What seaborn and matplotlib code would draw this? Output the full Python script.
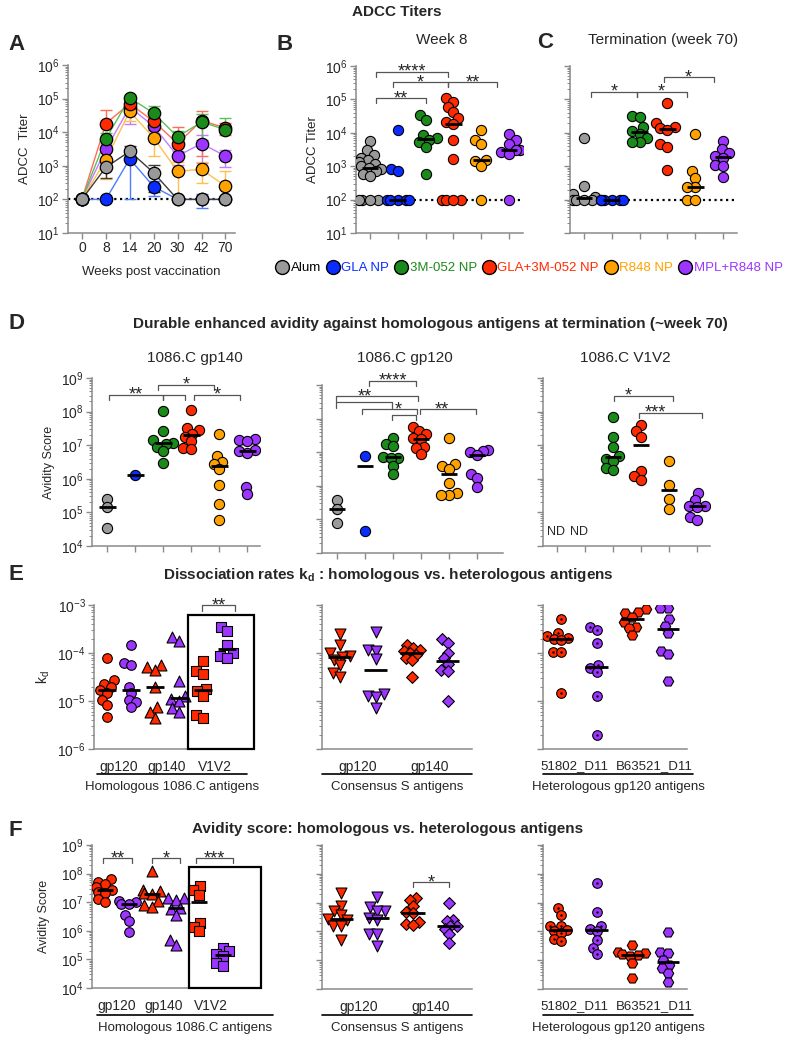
import warnings
warnings.filterwarnings('ignore')
import numpy as np
import pandas as pd
import matplotlib
matplotlib.use('Agg')
import matplotlib.pyplot as plt
import seaborn as sns
from matplotlib.lines import Line2D
from matplotlib.patches import Rectangle
from matplotlib.ticker import LogLocator, NullFormatter, LogFormatterMathtext

# ---------------- data ----------------
groups = ['Alum', 'GLA NP', '3M-052 NP', 'GLA+3M-052 NP', 'R848 NP', 'MPL+R848 NP']
group_colors = ['#9a9a9a', '#0a2cff', '#1a8a1a', '#ff2a00', '#ffa200', '#9b35ff']
line_colors = ['#3c3c3c', '#4d7dff', '#5cbf5c', '#ff6d55', '#ffc04d', '#c27dff']
legend_text_colors = ['black', '#0a2cff', '#1a8a1a', '#ff2a00', '#ffa200', '#9b35ff']

# Panel A: mean ADCC titer over time
weeks = ['0', '8', '14', '20', '30', '42', '70']
a_alum = [100, 900, 2700, 620, 100, 100, 100]
a_gla = [100, 100, 1600, 240, 100, 100, 100]
a_3m = [100, 6300, 105000, 37000, 7300, 20000, 12000]
a_gla3m = [100, 18000, 71000, 21000, 4600, 22000, 13500]
a_r848 = [100, 1500, 42000, 6800, 690, 780, 250]
a_mpl = [100, 3100, 56000, 15000, 1950, 4600, 1950]
a_alum_sem = [0, 460, 1100, 450, 0, 0, 0]
a_gla_sem = [0, 0, 1500, 110, 0, 45, 0]
a_3m_sem = [0, 3000, 25000, 25000, 3400, 14000, 14000]
a_gla3m_sem = [0, 29000, 35000, 14000, 10000, 20000, 5000]
a_r848_sem = [0, 1100, 20000, 4800, 600, 480, 450]
a_mpl_sem = [0, 1500, 38000, 8000, 900, 3400, 1000]

# Panel B: week 8
b_alum = [5500, 3000, 2200, 1800, 1500, 1300, 1200, 1000, 900, 800, 700, 600, 500, 100, 100, 100, 100]
b_gla = [12000, 850, 700, 100, 100, 100, 100, 100]
b_3m = [34000, 24000, 8500, 7000, 6000, 5200, 3800, 600]
b_gla3m = [107000, 85000, 60000, 42000, 27000, 21000, 18000, 6000, 1700, 100, 100, 100, 100]
b_r848 = [12000, 6000, 4500, 1500, 1400, 1000, 100]
b_mpl = [9000, 6000, 4500, 3100, 3000, 2600, 2400, 100]

# Panel C: termination
c_alum = [6800, 250, 150, 120, 100, 100, 100, 100]
c_gla = [100, 100, 100, 100, 100, 100]
c_3m = [32000, 30000, 15000, 11000, 9500, 6800, 5400, 5400]
c_gla3m = [79000, 19000, 15000, 13500, 12500, 4500, 3800, 760]
c_r848 = [9500, 720, 450, 240, 240, 100, 100]
c_mpl = [5600, 3200, 2500, 2000, 1800, 1100, 1000, 480]

# Panel D: avidity score
d1_alum = [2.5e5, 1.4e5, 3.5e4]
d1_gla = [1.3e6]
d1_3m = [1.05e8, 2.6e7, 1.4e7, 1.2e7, 1.05e7, 9e6, 6.5e6, 3e6]
d1_gla3m = [1.15e8, 3.2e7, 2.8e7, 2.2e7, 1.8e7, 1.3e7, 8e6, 7.5e6]
d1_r848 = [2.2e7, 4.8e6, 3.2e6, 2.8e6, 1.9e6, 6.6e5, 1.8e5, 6e4]
d1_mpl = [1.5e7, 1.4e7, 1.3e7, 7e6, 6.5e6, 6e6, 5.8e5, 3.5e5]

d2_alum = [3.9e5, 2.1e5, 7.8e4]
d2_gla = [7.6e6, 4.4e4]
d2_3m = [2.6e7, 1.8e7, 1.5e7, 7.2e6, 6.8e6, 6.5e6, 4e6, 2.3e6]
d2_gla3m = [5.8e7, 4.3e7, 3.6e7, 2.6e7, 2.5e7, 1.4e7, 1.3e7, 8.7e6]
d2_r848 = [2.7e7, 4.5e6, 4.0e6, 3.2e6, 1.2e6, 6e5, 5.5e5, 5.5e5]
d2_mpl = [1.2e7, 1.1e7, 1.0e7, 8.2e6, 2.3e6, 1.7e6, 9e5]

d3_alum = []
d3_gla = []
d3_3m = [6.9e7, 1.7e7, 9e6, 4.8e6, 4.0e6, 3.4e6, 2.1e6, 1.8e6]
d3_gla3m = [4.1e7, 2.6e7, 1.8e7, 1.7e6, 1.2e6, 9.3e5]
d3_r848 = [3.3e6, 6.6e5, 2.5e5, 1.3e5]
d3_mpl = [3.7e5, 2.3e5, 1.6e5, 1.5e5, 1.4e5, 7.5e4, 6e4]

# Panel E: dissociation rate kd (red = GLA+3M-052 NP, purple = MPL+R848 NP)
e_hom_gp120_red = [7.7e-5, 2.7e-5, 2.3e-5, 2.0e-5, 1.7e-5, 1.5e-5, 1.05e-5, 8.3e-6, 4.7e-6]
e_hom_gp120_pur = [1.5e-4, 6.3e-5, 5.6e-5, 2.0e-5, 1.45e-5, 1.05e-5, 9.6e-6, 7.4e-6]
e_hom_gp140_red = [5.6e-5, 5.1e-5, 4.4e-5, 2.0e-5, 7.6e-6, 6e-6, 4.4e-6]
e_hom_gp140_pur = [2.2e-4, 1.8e-4, 2.6e-5, 1.25e-5, 1.1e-5, 9.8e-6, 7.1e-6, 6e-6]
e_hom_v1v2_red = [6.8e-5, 4.2e-5, 3.6e-5, 1.8e-5, 1.6e-5, 1.3e-5, 5.1e-6, 4.4e-6]
e_hom_v1v2_pur = [3.5e-4, 2.9e-4, 1.47e-4, 1.0e-4, 8.5e-5, 7.8e-5]
e_con_gp120_red = [2.45e-4, 1.47e-4, 1.0e-4, 8.6e-5, 8.1e-5, 7.1e-5, 5.6e-5, 3.8e-5, 3.1e-5]
e_con_gp120_pur = [2.7e-4, 1.15e-4, 1.1e-4, 7.4e-5, 1.4e-5, 1.3e-5, 1.2e-5, 7.1e-6]
e_con_gp140_red = [1.5e-4, 1.3e-4, 1.15e-4, 1.1e-4, 1.0e-4, 9e-5, 7.7e-5, 7.1e-5, 3.2e-5]
e_con_gp140_pur = [1.96e-4, 1.65e-4, 1.0e-4, 7.7e-5, 6e-5, 4.4e-5, 4.2e-5, 1.0e-5]
e_het_518_red = [5e-4, 2.6e-4, 2.3e-4, 2.1e-4, 2.0e-4, 1.9e-4, 1.07e-4, 1.05e-4, 1.5e-5]
e_het_518_pur = [3.5e-4, 3.0e-4, 1.6e-4, 5.6e-5, 4.8e-5, 4.0e-5, 1.3e-5, 1.95e-6]
e_het_b63_red = [8.1e-4, 7.3e-4, 6.7e-4, 5.7e-4, 4.5e-4, 3.5e-4, 3.3e-4, 2.4e-4]
e_het_b63_pur = [8.5e-4, 8.5e-4, 5e-4, 3.65e-4, 2.6e-4, 1.1e-4, 9.5e-5, 2.6e-5]

# Panel F: avidity score
f_hom_gp120_red = [6.3e7, 5.2e7, 4.4e7, 3.5e7, 2.7e7, 2.3e7, 2.1e7, 1.3e7, 1.0e7]
f_hom_gp120_pur = [1.1e7, 1.0e7, 9e6, 8.8e6, 3.6e6, 2.2e6, 9e5]
f_hom_gp140_red = [1.2e8, 2.7e7, 2.4e7, 2.1e7, 1.9e7, 1.1e7, 8e6, 7e6]
f_hom_gp140_pur = [1.45e7, 1.35e7, 1.2e7, 6.5e6, 6e6, 3.5e6, 4.9e5, 3.2e5]
f_hom_v1v2_red = [3.6e7, 2.6e7, 1.8e7, 1.9e6, 1.4e6, 9.6e5]
f_hom_v1v2_pur = [2.5e5, 1.9e5, 1.5e5, 1.35e5, 7.4e4, 6e4]
f_con_gp120_red = [2.1e7, 7.7e6, 5.2e6, 3.8e6, 2.6e6, 2.4e6, 1.6e6, 1.5e6, 5.1e5]
f_con_gp120_pur = [1.6e7, 7.2e6, 5.2e6, 5.0e6, 2.9e6, 2.5e6, 8.3e5, 8e5, 3.2e5]
f_con_gp140_red = [1.4e7, 1.2e7, 7.7e6, 4.6e6, 4.4e6, 2.2e6, 1.8e6, 1.7e6]
f_con_gp140_pur = [9.5e6, 2.5e6, 2.3e6, 1.6e6, 1.5e6, 1.2e6, 8.3e5, 3.9e5]
f_het_518_red = [6.4e6, 3.8e6, 1.6e6, 1.5e6, 1.1e6, 1.0e6, 8.5e5, 5.4e5, 4.5e5]
f_het_518_pur = [4.7e7, 4.6e6, 1.55e6, 1.2e6, 1.0e6, 5.1e5, 2.6e5, 1.6e5]
f_het_b63_red = [3.5e5, 2.0e5, 1.8e5, 1.6e5, 1.5e5, 1.4e5, 7.9e4, 2.4e4]
f_het_b63_pur = [9.2e5, 2.0e5, 1.8e5, 1.0e5, 6.8e4, 5.3e4, 3.6e4, 1.8e4]

hom_labels = ['gp120', 'gp140', 'V1V2']
con_labels = ['gp120', 'gp140']
het_labels = ['51802_D11', 'B63521_D11']

# ---------------- style ----------------
sns.set_theme(style='ticks')
plt.rcParams['font.family'] = ['Liberation Sans', 'DejaVu Sans']
plt.rcParams.update({'mathtext.fontset': 'custom', 'mathtext.rm': 'Liberation Sans',
                     'mathtext.it': 'Liberation Sans:italic', 'mathtext.bf': 'Liberation Sans:bold',
                     'axes.unicode_minus': False})

W, H = 794, 1050
fig = plt.figure(figsize=(W / 100, H / 100), dpi=100)
AXC = '#8a8a8a'
RED = group_colors[3]
PUR = group_colors[5]
pending = []


def add_ax(l, r, t, b):
    return fig.add_axes([l / W, 1 - b / H, (r - l) / W, (b - t) / H])


def style_axis(ax, ylim, ylabels=True, fs=10):
    ax.set_yscale('log')
    ax.set_ylim(*ylim)
    ax.yaxis.set_major_locator(LogLocator(base=10, numticks=20))
    ax.yaxis.set_minor_locator(LogLocator(base=10, subs=np.arange(2, 10), numticks=20))
    ax.yaxis.set_minor_formatter(NullFormatter())
    ax.yaxis.set_major_formatter(LogFormatterMathtext() if ylabels else NullFormatter())
    sns.despine(ax=ax)
    for s in ('left', 'bottom'):
        ax.spines[s].set_color(AXC)
        ax.spines[s].set_linewidth(1.1)
    ax.tick_params(which='major', color=AXC, length=4, width=1.0, labelsize=fs, pad=2)
    ax.tick_params(axis='y', which='minor', color=AXC, length=2, width=0.7)


def dot_panel(ax, lists, names, colors, markers, sizes, hw, xlim, dot_groups=()):
    for i, vals in enumerate(lists):
        if len(vals) == 0:
            continue
        df = pd.DataFrame({'grp': [names[i]] * len(vals), 'val': vals})
        before = list(ax.collections)
        sns.swarmplot(data=df, x='grp', y='val', order=names, color=colors[i], marker=markers[i],
                      size=np.sqrt(sizes[i]) * 0.62, linewidth=0.8, edgecolor='black', ax=ax, zorder=3)
        for c in ax.collections:
            if not any(c is b for b in before):
                pending.append((c, sizes[i], ax, i in dot_groups))
        ax.hlines(np.median(vals), i - hw, i + hw, colors='black', lw=2.0, zorder=6)
    ax.set_xlim(*xlim)
    ax.set_xlabel('')
    ax.set_ylabel('')


def bracket(ax, x1, x2, y, text='', tick=0.15, tx=None, fs=13):
    f = 10 ** (-tick)
    ax.plot([x1, x1, x2, x2], [y * f, y, y, y * f], color='#555555', lw=0.9, clip_on=False, zorder=7)
    if text:
        ax.annotate(text, ((x1 + x2) / 2 if tx is None else tx, y), xytext=(0, -3.6),
                    textcoords='offset points', ha='center', va='baseline', fontsize=fs,
                    annotation_clip=False, zorder=7)


def fig_text(x, y, s, **kw):
    fig.text(x / W, 1 - y / H, s, ha=kw.pop('ha', 'center'), va=kw.pop('va', 'center'), **kw)


def cat_ticks(ax, n):
    ax.set_xticks(range(n))
    ax.set_xticklabels([''] * n)


def pair_labels(ax, labels, fs=10, shift=0.0):
    n = len(labels)
    pos = [0.5 + 2 * k + (shift if n == 2 else 0) * (2 * k - 1) for k in range(n)]
    ax.set_xticks(pos)
    ax.set_xticklabels(labels, fontsize=fs)
    ax.tick_params(axis='x', length=0, pad=8)


# ---------------- Panel A ----------------
axA = add_ax(68, 235, 65, 233)
style_axis(axA, (10, 1e6))
xA = np.arange(len(weeks))
seriesA = [(a_gla, a_gla_sem, 1), (a_mpl, a_mpl_sem, 5), (a_r848, a_r848_sem, 4),
           (a_gla3m, a_gla3m_sem, 3), (a_3m, a_3m_sem, 2), (a_alum, a_alum_sem, 0)]
axA.axhline(100, color='black', ls=(0, (1, 1.6)), lw=1.6, zorder=1.5)
for k, (vals, sem, gi) in enumerate(seriesA):
    v = np.array(vals, float)
    s = np.array(sem, float)
    lo = np.where(v - s > 0, s, 0)
    sns.lineplot(x=xA, y=v, color=line_colors[gi], lw=1.0, ax=axA, zorder=2)
    axA.errorbar(xA, v, yerr=[lo, s], fmt='none', ecolor=line_colors[gi], elinewidth=1.0,
                 capsize=4, capthick=1.0, zorder=2)
for k, (vals, sem, gi) in enumerate(seriesA):
    sns.scatterplot(x=xA, y=vals, color=group_colors[gi], s=80, edgecolor='black', linewidth=0.9,
                    ax=axA, zorder=3 + k, legend=False)
axA.set_xlim(-0.58, 6.4)
axA.set_xticks(xA)
axA.set_xticklabels(weeks, fontsize=10)
axA.set_xlabel('Weeks post vaccination', fontsize=9.5, labelpad=8)
axA.set_ylabel('ADCC  Titer', fontsize=9.5)

# ---------------- Panel B ----------------
axB = add_ax(356, 523, 66, 233)
style_axis(axB, (10, 1e6))
axB.axhline(100, color='black', ls=(0, (1, 1.6)), lw=1.6, zorder=1.5)
dot_panel(axB, [b_alum, b_gla, b_3m, b_gla3m, b_r848, b_mpl], groups, group_colors, ['o'] * 6,
          [54] * 6, 0.3, (-0.5, 5.5))
cat_ticks(axB, 6)
axB.set_ylabel('ADCC Titer', fontsize=9.5)
bracket(axB, 0.21, 2.82, 10 ** 5.83, '****')
bracket(axB, 0.83, 2.80, 10 ** 5.51, '*')
bracket(axB, 2.80, 4.56, 10 ** 5.51, '**')
bracket(axB, 0.21, 2.02, 10 ** 5.03, '**')

# ---------------- Panel C ----------------
axC = add_ax(570, 737, 66, 233)
style_axis(axC, (10, 1e6), ylabels=False)
axC.axhline(100, color='black', ls=(0, (1, 1.6)), lw=1.6, zorder=1.5)
dot_panel(axC, [c_alum, c_gla, c_3m, c_gla3m, c_r848, c_mpl], groups, group_colors, ['o'] * 6,
          [54] * 6, 0.3, (-0.5, 5.5))
cat_ticks(axC, 6)
bracket(axC, 0.26, 1.9, 10 ** 5.23, '*')
bracket(axC, 1.9, 3.69, 10 ** 5.23, '*')
bracket(axC, 2.86, 4.67, 10 ** 5.66, '*')

# ---------------- Panel D ----------------
axD1 = add_ax(92, 260, 378, 546)
style_axis(axD1, (1e4, 1e9))
dot_panel(axD1, [d1_alum, d1_gla, d1_3m, d1_gla3m, d1_r848, d1_mpl], groups, group_colors,
          ['o'] * 6, [54] * 6, 0.3, (-0.54, 5.46))
cat_ticks(axD1, 6)
axD1.set_ylabel('Avidity Score', fontsize=9)
bracket(axD1, 0.06, 2.0, 10 ** 8.5, '**')
bracket(axD1, 2.0, 2.77, 10 ** 8.5, '')
bracket(axD1, 1.82, 3.81, 10 ** 8.8, '*')
bracket(axD1, 3.1, 4.76, 10 ** 8.5, '*')

axD2 = add_ax(322, 503, 385, 553)
style_axis(axD2, (1e4, 1e9), ylabels=False)
dot_panel(axD2, [d2_alum, d2_gla, d2_3m, d2_gla3m, d2_r848, d2_mpl], groups, group_colors,
          ['o'] * 6, [54] * 6, 0.3, (-0.54, 5.93))
cat_ticks(axD2, 6)
bracket(axD2, 1.15, 2.83, 10 ** 9.13, '****')
bracket(axD2, -0.04, 2.89, 10 ** 8.67, '**', tx=1.0)
bracket(axD2, -0.04, 1.96, 10 ** 8.48, '')
bracket(axD2, 0.89, 2.86, 10 ** 8.28, '*', tx=2.2)
bracket(axD2, 1.96, 2.83, 10 ** 8.12, '')
bracket(axD2, 2.98, 4.96, 10 ** 8.28, '**', tx=3.75)

axD3 = add_ax(543, 710, 378, 546)
style_axis(axD3, (1e4, 1e9), ylabels=False)
dot_panel(axD3, [d3_alum, d3_gla, d3_3m, d3_gla3m, d3_r848, d3_mpl], groups, group_colors,
          ['o'] * 6, [54] * 6, 0.3, (-0.5, 5.46))
cat_ticks(axD3, 6)
for gx in (-0.05, 0.8):
    axD3.text(gx, 10 ** 4.43, 'ND', ha='center', va='center', fontsize=9)
bracket(axD3, 2.02, 4.15, 10 ** 8.47, '*', tx=2.56)
bracket(axD3, 2.94, 5.18, 10 ** 7.96, '***', tx=3.51)

# ---------------- Panel E ----------------
rp = [RED, PUR]
axE1 = add_ax(94, 241, 605, 749)
style_axis(axE1, (1e-6, 1e-3))
dot_panel(axE1, [e_hom_gp120_red, e_hom_gp120_pur, e_hom_gp140_red, e_hom_gp140_pur,
                 e_hom_v1v2_red, e_hom_v1v2_pur], ['a', 'b', 'c', 'd', 'e', 'f'], rp * 3,
          ['o', 'o', '^', '^', 's', 's'], [48, 48, 62, 62, 52, 52], 0.36, (-0.54, 5.58))
pair_labels(axE1, hom_labels)
axE1.set_ylabel(r'k$_{\mathregular{d}}$', fontsize=10)
bracket(axE1, 3.96, 5.33, 1e-3, '**', tick=0.12)
axE1.add_patch(Rectangle((3.38, 1e-6), 6.12 - 3.38, 10 ** -3.21 - 1e-6, fill=False, ec='black',
                         lw=1.6, clip_on=False, zorder=8))

axE2 = add_ax(322, 472, 605, 749)
style_axis(axE2, (1e-6, 1e-3), ylabels=False)
dot_panel(axE2, [e_con_gp120_red, e_con_gp120_pur, e_con_gp140_red, e_con_gp140_pur],
          ['a', 'b', 'c', 'd'], rp * 2, ['v', 'v', 'D', 'D'], [62, 62, 36, 36], 0.32, (-0.5, 3.67))
pair_labels(axE2, con_labels)

axE3 = add_ax(543, 687, 605, 749)
style_axis(axE3, (1e-6, 1e-3), ylabels=False)
dot_panel(axE3, [e_het_518_red, e_het_518_pur, e_het_b63_red, e_het_b63_pur],
          ['a', 'b', 'c', 'd'], rp * 2, ['o', 'o', 'H', 'H'], [48, 48, 56, 56], 0.32, (-0.5, 3.53),
          dot_groups=(0, 1))
pair_labels(axE3, het_labels, fs=9.5, shift=0.12)

# ---------------- Panel F ----------------
axF1 = add_ax(92, 237, 845, 988)
style_axis(axF1, (1e4, 1e9))
dot_panel(axF1, [f_hom_gp120_red, f_hom_gp120_pur, f_hom_gp140_red, f_hom_gp140_pur,
                 f_hom_v1v2_red, f_hom_v1v2_pur], ['a', 'b', 'c', 'd', 'e', 'f'], rp * 3,
          ['o', 'o', '^', '^', 's', 's'], [48, 48, 62, 62, 52, 52], 0.34, (-0.55, 5.59))
pair_labels(axF1, hom_labels)
axF1.set_ylabel('Avidity Score', fontsize=9, labelpad=8)
bracket(axF1, -0.08, 1.14, 10 ** 8.53, '**', tick=0.17)
bracket(axF1, 2.0, 3.18, 10 ** 8.53, '*', tick=0.17)
bracket(axF1, 3.86, 5.42, 10 ** 8.53, '***', tick=0.17)
axF1.add_patch(Rectangle((3.56, 1e4), 6.61 - 3.56, 10 ** 8.22 - 1e4, fill=False, ec='black',
                         lw=1.6, clip_on=False, zorder=8))

axF2 = add_ax(322, 472, 845, 989)
style_axis(axF2, (1e4, 1e9), ylabels=False)
dot_panel(axF2, [f_con_gp120_red, f_con_gp120_pur, f_con_gp140_red, f_con_gp140_pur],
          ['a', 'b', 'c', 'd'], rp * 2, ['v', 'v', 'D', 'D'], [62, 62, 36, 36], 0.32, (-0.53, 3.64))
pair_labels(axF2, con_labels)
bracket(axF2, 2.0, 3.0, 10 ** 7.70, '*', tick=0.17)

axF3 = add_ax(543, 687, 845, 989)
style_axis(axF3, (1e4, 1e9), ylabels=False)
dot_panel(axF3, [f_het_518_red, f_het_518_pur, f_het_b63_red, f_het_b63_pur],
          ['a', 'b', 'c', 'd'], rp * 2, ['o', 'o', 'H', 'H'], [48, 48, 56, 56], 0.32, (-0.5, 3.53),
          dot_groups=(0, 1))
pair_labels(axF3, het_labels, fs=9.5, shift=0.12)

# ---------------- finalize swarms (compact overlap like GraphPad) ----------------
fig.canvas.draw()
for c, s, ax, dot in pending:
    c.__dict__.pop('draw', None)
    c.set_sizes([s])
    if dot:
        off = np.asarray(c.get_offsets())
        ax.scatter(off[:, 0], off[:, 1], s=3, color='black', linewidths=0, zorder=4)

# ---------------- texts ----------------
fig_text(397, 12, 'ADCC Titers', fontsize=11, fontweight='bold')
for lab, x, y in [('A', 8, 45), ('B', 277, 45), ('C', 537, 42), ('D', 8, 323), ('E', 8, 575), ('F', 8, 830)]:
    fig_text(x, y, lab, fontsize=16, fontweight='bold', ha='left')
fig_text(442, 40, 'Week 8', fontsize=11)
fig_text(663, 40, 'Termination (week 70)', fontsize=11)
fig_text(430, 324, 'Durable enhanced avidity against homologous antigens at termination (~week 70)',
         fontsize=11, fontweight='bold')
fig_text(195, 358, '1086.C gp140', fontsize=11)
fig_text(405, 358, '1086.C gp120', fontsize=11)
fig_text(625, 358, '1086.C V1V2', fontsize=11)
fig_text(388, 575, r'Dissociation rates k$_{\mathbf{d}}$ : homologous vs. heterologous antigens',
         fontsize=11, fontweight='bold')
fig_text(388, 829, 'Avidity score: homologous vs. heterologous antigens', fontsize=11, fontweight='bold')

for (x1, x2, y, txt) in [(97, 247, 774, 'Homologous 1086.C antigens'), (322, 472, 774, 'Consensus S antigens'),
                         (543, 693, 774, 'Heterologous gp120 antigens'),
                         (97, 273, 1015, 'Homologous 1086.C antigens'), (322, 472, 1015, 'Consensus S antigens'),
                         (543, 693, 1015, 'Heterologous gp120 antigens')]:
    fig.add_artist(Line2D([x1 / W, x2 / W], [1 - y / H, 1 - y / H], color='black', lw=1.2,
                          transform=fig.transFigure))
    fig_text((x1 + x2) / 2, y + 13, txt, fontsize=9.5)

# legend
handles = [Line2D([], [], ls='', marker='o', markersize=10, markerfacecolor=c, markeredgecolor='black',
                  markeredgewidth=1.0) for c in group_colors]
leg = fig.legend(handles, groups, loc='center', bbox_to_anchor=(529 / W, 1 - 268 / H), ncol=6,
                 frameon=False, fontsize=9.5, handletextpad=0.15, columnspacing=0.4, handlelength=1.0,
                 borderaxespad=0, borderpad=0)
for t, c in zip(leg.get_texts(), legend_text_colors):
    t.set_color(c)

fig.savefig('out.png', dpi=100)
